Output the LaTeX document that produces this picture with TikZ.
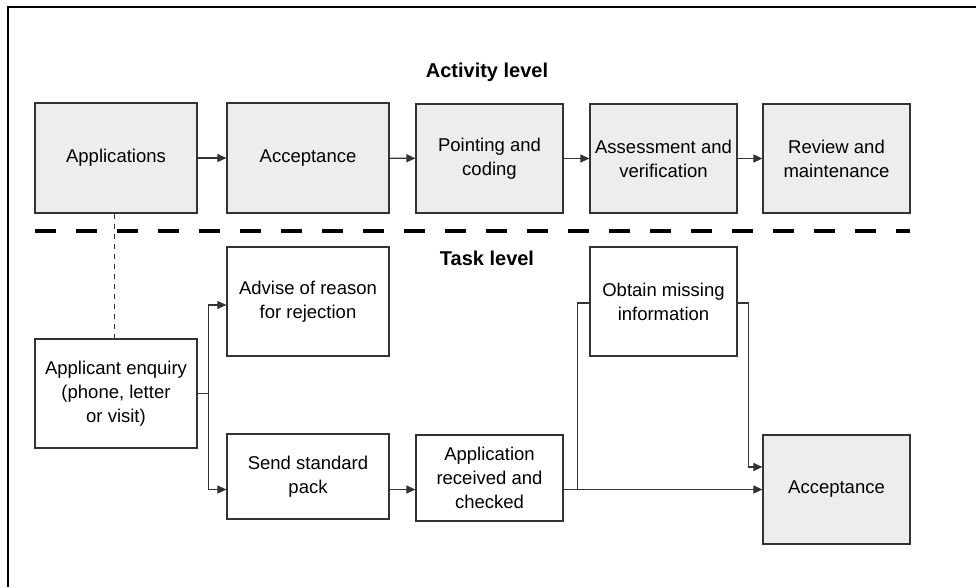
\documentclass[tikz,border=0pt]{standalone}
\usepackage{fontspec}
\setmainfont{Liberation Sans}
\usetikzlibrary{arrows.meta,calc}
\definecolor{boxfill}{HTML}{EDEDED}
\definecolor{edge}{HTML}{333333}
\begin{document}
\begin{tikzpicture}[x=1pt,y=-1pt,
  box/.style={draw=edge,line width=1.2pt,rectangle,align=center,inner sep=0pt,
    font=\fontsize{18.5}{24}\selectfont},
  act/.style={box,fill=boxfill},
  tsk/.style={box,fill=white},
  conn/.style={draw=edge,line width=1.1pt,-{Triangle[length=9pt,width=8pt]}},
  plain/.style={draw=edge,line width=1.1pt},
  title/.style={font=\fontsize{20}{24}\selectfont\bfseries}]
\useasboundingbox (0,0) rectangle (976,587);
% frame (top and left only)
\draw[line width=1.5pt] (8,587) -- (8,7) -- (976,7);
% titles
\node[title] (tact) at (487,72) {Activity level};
\node[title] (ttask) at (487,258) {Task level};
% activity boxes
\node[act,minimum width=162pt,minimum height=110pt] (appl) at (116,158) {Applications};
\node[act,minimum width=162pt,minimum height=110pt] (acc1) at (308,158) {Acceptance};
\node[act,minimum width=147pt,minimum height=109pt] (point) at (489.5,158.5) {Pointing and\\coding};
\node[act,minimum width=147pt,minimum height=109pt] (assess) at (663.5,158.5) {Assessment and\\verification};
\node[act,minimum width=147pt,minimum height=109pt] (review) at (836.5,158.5) {Review and\\maintenance};
% separator
\coordinate (sepL) at (35,231);
\coordinate (sepR) at (910,231);
\draw[line width=4pt,dash pattern=on 21pt off 20pt] (sepL) -- (sepR);
% task boxes
\node[tsk,minimum width=162pt,minimum height=109pt] (adv) at (308,301.5) {Advise of reason\\for rejection};
\node[tsk,minimum width=147pt,minimum height=109pt] (obt) at (663.5,301.5) {Obtain missing\\information};
\node[tsk,minimum width=162pt,minimum height=109pt] (enq) at (116,393.5) {Applicant enquiry\\(phone, letter\\or visit)};
\node[tsk,minimum width=162pt,minimum height=85pt] (send) at (308,476.5) {Send standard\\pack};
\node[tsk,minimum width=147pt,minimum height=86pt] (recv) at (489.5,478) {Application\\received and\\checked};
\node[act,minimum width=147pt,minimum height=109pt] (acc2) at (836.5,489.5) {Acceptance};
% activity connectors
\draw[conn] (appl) -- (acc1);
\draw[conn] (acc1) -- (point);
\draw[conn] (point) -- (assess);
\draw[conn] (assess) -- (review);
% dashed link
\draw[draw=edge,line width=1pt,dash pattern=on 5pt off 5pt] ([xshift=-2pt]appl.south) -- ([xshift=-2pt]enq.north);
% task connectors
\draw[conn] (enq.east) -- ++(11,0) |- ([yshift=-3.5pt]adv.west);
\draw[conn] (enq.east) -- ++(11,0) |- (send.west |- acc2.west);
\draw[conn] (send.east |- acc2.west) -- (recv.west |- acc2.west);
\draw[conn] (recv.east |- acc2.west) -- (acc2.west);
\draw[plain] (recv.east |- acc2.west) ++(14,0) |- ([yshift=-1.5pt]obt.west);
\draw[conn] ([yshift=-1.5pt]obt.east) -- ++(11,0) |- ([yshift=22.5pt]acc2.west);
\end{tikzpicture}
\end{document}
